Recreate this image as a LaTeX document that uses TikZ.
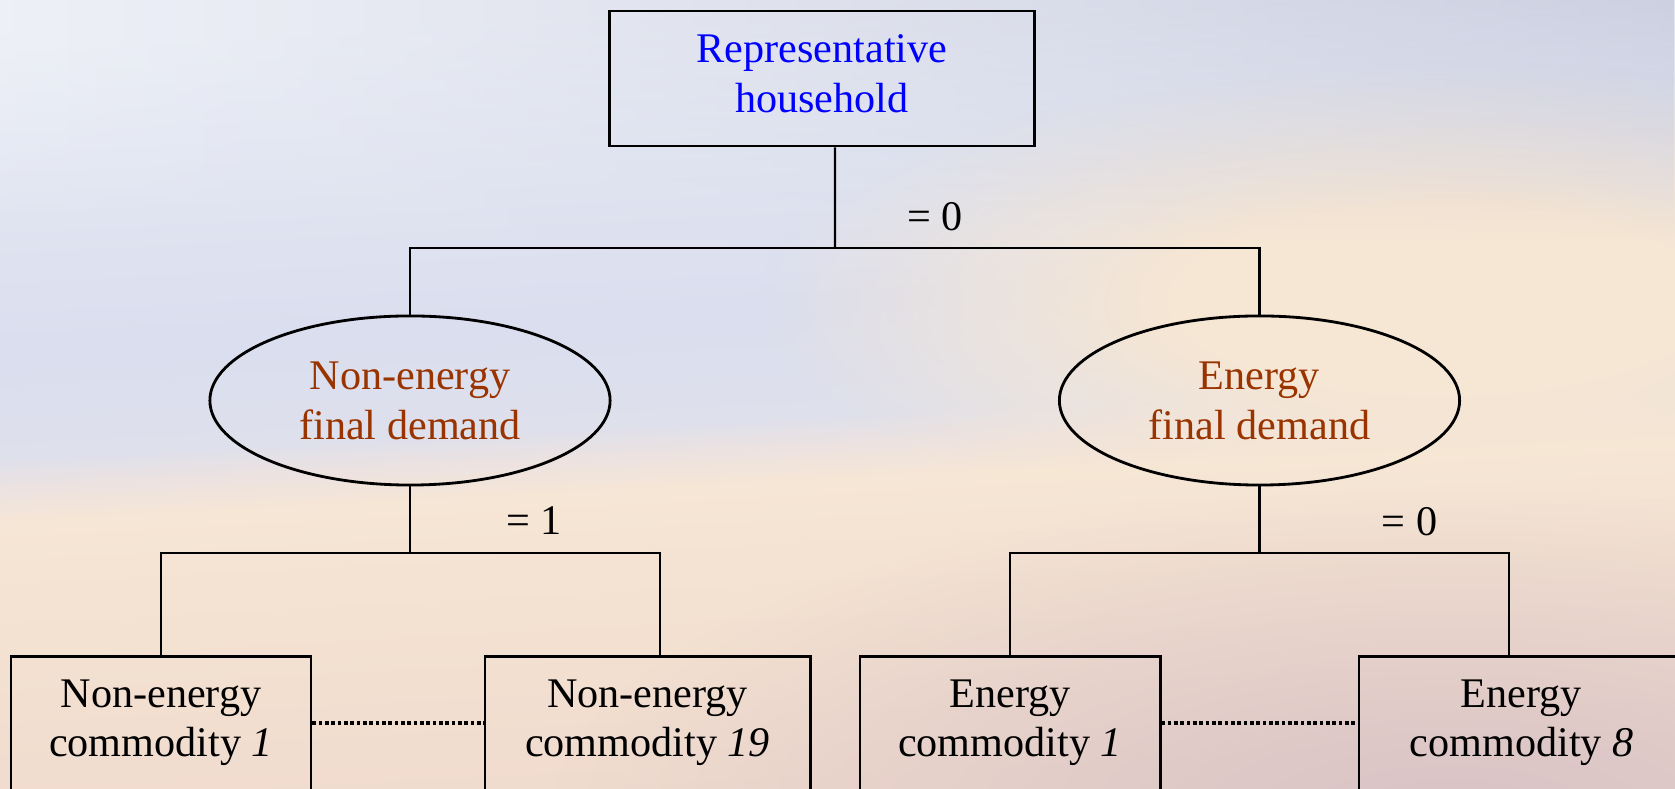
\documentclass[tikz,border=0pt]{standalone}
\usepackage{fontspec}
\setmainfont{Liberation Serif}
\usetikzlibrary{shapes.geometric,fadings}

% text colours
\definecolor{hhblue}{RGB}{0,0,255}
\definecolor{rust}{RGB}{153,51,0}

% background colours, from the lower band up to the sky
\definecolor{bgA}{RGB}{240,219,206}
\definecolor{bgD}{RGB}{243,225,209}
\definecolor{bgE}{RGB}{246,230,213}
\definecolor{bgF}{RGB}{236,226,224}
\definecolor{bgG}{RGB}{222,224,236}
\definecolor{bgH}{RGB}{218,222,238}
\definecolor{bgI}{RGB}{228,232,243}
\definecolor{bgJ}{RGB}{234,237,245}
\definecolor{sand}{RGB}{246,230,212}
\definecolor{mauve}{RGB}{216,194,197}
\definecolor{ovL}{RGB}{242,244,249}
\definecolor{ovR}{RGB}{178,182,206}

\pgfdeclareverticalshading{skyband}{100bp}{%
  color(0bp)=(bgA); color(36.1bp)=(bgA); color(42.9bp)=(bgD);
  color(47.1bp)=(bgE); color(48.4bp)=(bgF); color(49.5bp)=(bgG);
  color(53.6bp)=(bgH); color(60.7bp)=(bgI); color(64.3bp)=(bgJ);
  color(100bp)=(bgJ)}

% soft round masks: linear fade, and one with an opaque core
\tikzfading[name=softblob, inner color=transparent!0, outer color=transparent!100]
\pgfdeclareradialshading{coreblobshade}{\pgfpointorigin}{%
  color(0bp)=(pgftransparent!0); color(10bp)=(pgftransparent!0);
  color(25bp)=(pgftransparent!100); color(50bp)=(pgftransparent!100)}
\pgfdeclarefading{coreblob}{\pgfuseshading{coreblobshade}}

\tikzset{
  every node/.style={font=\fontsize{12}{14.2}\selectfont, align=center},
  hhbox/.style={draw, line width=0.8pt, minimum width=4.24cm,
    minimum height=1.35cm, inner sep=0pt, text=hhblue},
  demand/.style={ellipse, draw, line width=0.8pt, minimum width=4.0cm,
    minimum height=1.69cm, inner sep=0pt, text=rust},
  good/.style={draw, line width=0.8pt, anchor=north, inner xsep=0pt,
    inner ysep=0.23cm},
  link/.style={line width=0.6pt},
  dotlink/.style={line width=1pt, dash pattern=on 1pt off 0.8pt},
  elas/.style={anchor=base, inner sep=0pt},
}

\begin{document}
\begin{tikzpicture}[x=0.01cm, y=-0.01cm]
\useasboundingbox (0,0) rectangle (1675,789);
\clip (0,0) rectangle (1675,789);

% sky-to-sand background, slightly tilted band
\begin{scope}[transform canvas={rotate around={3:(837,394)}}]
  \shade[shading=skyband] (-200,-300) rectangle (1900,1100);
\end{scope}
% warm glow on the right, mauve shadow low on the right
\fill[sand, path fading=coreblob] (1440,300) ellipse [x radius=680, y radius=240];
\fill[mauve, path fading=softblob] (1450,820) ellipse [x radius=900, y radius=330];
% lavender haze along the upper edge, stronger to the right
\shade[left color=ovL, right color=ovR, fill opacity=0.5, path fading=south]
  (0,0) rectangle (1675,240);

% nodes
\node[hhbox] (hh) at (822,78.5) {Representative\\household\rule[-0.1cm]{0pt}{0pt}};
\node[demand] (ne) at (410,400.5) {Non-energy\\final demand};
\node[demand] (en) at (1259.5,400.5) {Energy\\final demand};

\node[good, minimum width=3.0cm]  (c1)  at (161,655)    {Non-energy\\commodity \textit{1}\rule[-0.5cm]{0pt}{0pt}};
\node[good, minimum width=3.25cm] (c19) at (647.5,655)  {Non-energy\\commodity \textit{19}\rule[-0.5cm]{0pt}{0pt}};
\node[good, minimum width=3.0cm]  (e1)  at (1010,655)   {Energy\\commodity \textit{1}\rule[-0.5cm]{0pt}{0pt}};
\node[good, minimum width=3.25cm] (e8)  at (1521.5,655) {Energy\\commodity \textit{8}\rule[-0.5cm]{0pt}{0pt}};

% elasticity labels
\node[elas] (s0) at (935,231)    {= 0};
\node[elas] (s1) at (534,535)    {= 1};
\node[elas] (s2) at (1409.5,536) {= 0};

% tree connectors
\coordinate (jtop) at (835,248);
\coordinate (jl) at (410,553);
\coordinate (jr) at (1259.5,553);

\draw[link] ([xshift=0.13cm]hh.south) -- (jtop);
\draw[link] (ne.north) |- (jtop) -| (en.north);

\draw[link] (ne.south) -- (jl);
\draw[link] (c1.north) |- (jl) -| ([xshift=0.125cm]c19.north);

\draw[link] (en.south) -- (jr);
\draw[link] (e1.north) |- (jr) -| ([xshift=-0.125cm]e8.north);

% dotted runs between first and last commodities
\draw[dotlink] ([yshift=-0.68cm]c1.north east) -- ([yshift=-0.68cm]c19.north west);
\draw[dotlink] ([yshift=-0.68cm]e1.north east) -- ([yshift=-0.68cm]e8.north west);
\end{tikzpicture}
\end{document}
